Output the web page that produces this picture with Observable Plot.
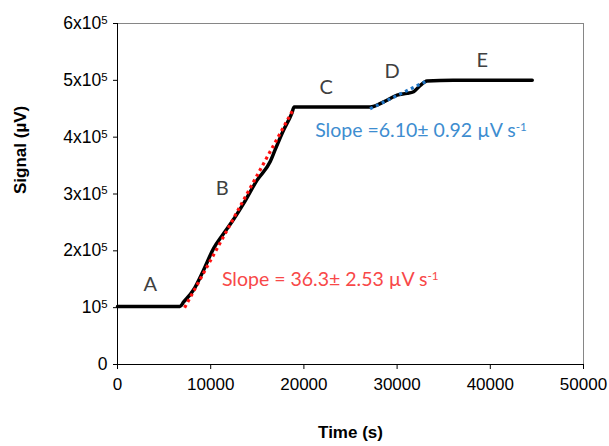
<!DOCTYPE html>
<html><head><meta charset="utf-8">
<script src="https://cdn.jsdelivr.net/npm/d3@7"></script>
<script src="https://cdn.jsdelivr.net/npm/@observablehq/plot@0.6"></script>
<style>body{margin:0;background:#fff}</style>
</head><body><div id="chart"></div>
<script>
// Measured signal trace
const timeS  = [0, 2000, 4000, 6700, 7100, 8150, 9230, 10300, 11370, 12280, 13520, 14960, 16390, 16920, 17810, 18700, 18950, 21000, 24000, 27100, 28560, 30000, 31070, 31770, 32490, 33200, 36000, 40000, 44500];
const signal = [1.02e5, 1.02e5, 1.02e5, 1.02e5, 1.10e5, 1.31e5, 1.66e5, 2.04e5, 2.30e5, 2.51e5, 2.83e5, 3.24e5, 3.57e5, 3.78e5, 4.12e5, 4.42e5, 4.53e5, 4.53e5, 4.53e5, 4.53e5, 4.62e5, 4.74e5, 4.77e5, 4.80e5, 4.91e5, 4.99e5, 5.0e5, 5.0e5, 5.0e5];
// Linear fits
const fitBTime = [7200, 18900];
const fitBSignal = [1.0e5, 4.5e5];
const fitDTime = [27100, 33200];
const fitDSignal = [4.5e5, 4.99e5];
// Stage labels
const stageLabels = ["A", "B", "C", "D", "E"];
const stageTime = [3510, 11230, 22390, 29470, 39130];
const stageSignal = [1.40e5, 3.10e5, 4.88e5, 5.16e5, 5.34e5];
// Slope annotations
const slopeTexts = ["Slope = 36.3\u00b1 2.53 \u00b5V s", "Slope =6.10\u00b1 0.92 \u00b5V s"];
const slopeTime = [11200, 21210];
const slopeSignal = [1.50e5, 4.11e5];
// Ticks
const xTicks = [0, 10000, 20000, 30000, 40000, 50000];
const yTicks = [0, 1e5, 2e5, 3e5, 4e5, 5e5, 6e5];
const yTickLabels = ["0", "10", "2x10", "3x10", "4x10", "5x10", "6x10"];

const trace = timeS.map((t, i) => ({t, s: signal[i]}));
const fitB = fitBTime.map((t, i) => ({t, s: fitBSignal[i]}));
const fitD = fitDTime.map((t, i) => ({t, s: fitDSignal[i]}));
const stages = stageLabels.map((l, i) => ({l, t: stageTime[i], s: stageSignal[i]}));
const slopeRed = [{l: slopeTexts[0], t: slopeTime[0], s: slopeSignal[0]}];
const slopeBlue = [{l: slopeTexts[1], t: slopeTime[1], s: slopeSignal[1]}];

const chart = Plot.plot({
  width: 609, height: 446,
  marginLeft: 117, marginRight: 26, marginTop: 23, marginBottom: 82,
  x: {domain: [0, 50000]},
  y: {domain: [0, 6e5]},
  style: {fontFamily: "'Liberation Sans', Arial, sans-serif", fontSize: "17px", color: "#000", background: "#fff"},
  marks: [
    Plot.frame({stroke: "#868686"}),
    Plot.axisX({ticks: xTicks, tickSize: 5, tickPadding: 8, tickFormat: d => String(d), label: null, fontSize: 17}),
    Plot.axisY({ticks: yTicks, tickSize: 4, tickPadding: 6, tickFormat: d => yTickLabels[yTicks.indexOf(d)], label: null, fontSize: 17.5}),
    Plot.ruleX([0], {stroke: "#000"}),
    Plot.ruleY([0], {stroke: "#000"}),
    Plot.line(trace, {x: "t", y: "s", stroke: "#000", strokeWidth: 3.5, curve: "monotone-x"}),
    Plot.line(fitB, {x: "t", y: "s", stroke: "#ff1010", strokeWidth: 3.2, strokeDasharray: "3,3.5", strokeLinecap: "butt"}),
    Plot.line(fitD, {x: "t", y: "s", stroke: "#1f74c4", strokeWidth: 3.2, strokeDasharray: "3,3.5", strokeLinecap: "butt"}),
    Plot.text(stages, {x: "t", y: "s", text: "l", fill: "#404040", fontSize: 20, fontFamily: "Lato, sans-serif"}),
    Plot.text(slopeRed, {x: "t", y: "s", text: "l", fill: "#f84848", fontSize: 19.5, fontFamily: "Lato, sans-serif", textAnchor: "start"}),
    Plot.text(slopeBlue, {x: "t", y: "s", text: "l", fill: "#3d8dd0", fontSize: 19.5, fontFamily: "Lato, sans-serif", textAnchor: "start"}),
    Plot.text(["Time (s)"], {frameAnchor: "bottom", dy: 73, text: d => d, fontWeight: "bold", fontSize: 17}),
    Plot.text(["Signal (\u00b5V)"], {frameAnchor: "left", dx: -97, rotate: -90, text: d => d, fontWeight: "bold", fontSize: 17})
  ]
});
document.getElementById("chart").appendChild(chart);
const svg = d3.select(chart);
svg.selectAll('g[aria-label="y-axis tick label"] text').each(function() {
  const t = d3.select(this);
  if (t.text() !== "0") {
    t.append("tspan").attr("dy", "-0.45em").attr("font-size", "0.65em").text("5");
  }
});
svg.selectAll("text").filter(function() { return d3.select(this).text().startsWith("Slope"); }).each(function() {
  d3.select(this).append("tspan").attr("dy", "-0.5em").attr("font-size", "0.6em").text("-1");
});
</script>
</body></html>
